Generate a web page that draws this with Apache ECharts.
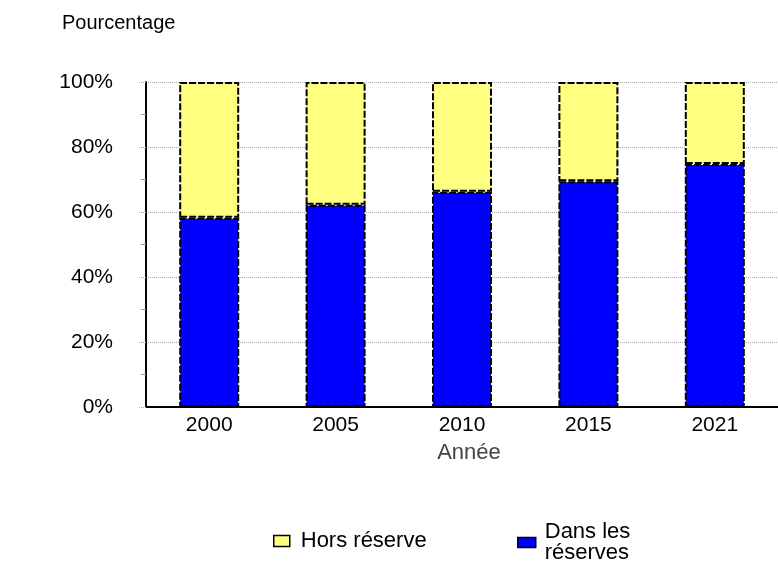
<!DOCTYPE html>
<html>
<head>
<meta charset="utf-8">
<script src="https://cdn.jsdelivr.net/npm/echarts@6/dist/echarts.min.js"></script>
<style>
  html, body { margin: 0; padding: 0; background: #fff; }
  #chart { width: 778px; height: 563px; }
</style>
</head>
<body>
<div id="chart"></div>
<script>
var years = ['2000', '2005', '2010', '2015', '2021']
var dansReserves = [58.2, 62.2, 66.2, 69.5, 74.8]
var horsReserve = [41.8, 37.8, 33.8, 30.5, 25.2]
var yTicks = [0, 20, 40, 60, 80, 100]

var myChart = echarts.init(document.getElementById('chart'))
var font = 'Liberation Sans, Arial, sans-serif'

var option = {
    animation: false,
    textStyle: { fontFamily: font },
    title: {
        text: 'Pourcentage',
        left: 57,
        top: 8,
        textStyle: { fontSize: 20, fontWeight: 'normal', color: '#000', fontFamily: font }
    },
    legend: [
        {
            data: ['Hors réserve'],
            left: 273,
            top: 530,
            padding: 0,
            icon: 'rect',
            itemWidth: 16,
            itemHeight: 11,
            itemGap: 8,
            textStyle: { fontSize: 22, color: '#000', fontFamily: font, padding: [0, 0, 0, 6] },
            itemStyle: { borderColor: '#000', borderWidth: 1.5, borderType: 'solid' }
        },
        {
            data: ['Dans les\nréserves'],
            left: 517,
            top: 521,
            padding: 0,
            icon: 'rect',
            itemWidth: 18,
            itemHeight: 10,
            itemGap: 8,
            textStyle: { fontSize: 22, color: '#000', fontFamily: font, lineHeight: 21, padding: [0, 0, 0, 4] },
            itemStyle: { borderColor: '#000', borderWidth: 1.5, borderType: 'solid' }
        }
    ],
    grid: {
        left: 146,
        right: -8,
        top: 82,
        bottom: 156,
        containLabel: false
    },
    xAxis: {
        type: 'category',
        data: years,
        name: 'Année',
        nameLocation: 'middle',
        nameGap: 35,
        nameTextStyle: { fontSize: 22, color: '#444', fontFamily: font, padding: [0, 0, 0, 14] },
        axisLine: { lineStyle: { color: '#000', width: 2 } },
        axisTick: { show: false },
        axisLabel: { fontSize: 21, color: '#000', margin: 8, fontFamily: font }
    },
    yAxis: {
        type: 'value',
        min: 0,
        max: 100,
        interval: 20,
        axisLine: { show: true, lineStyle: { color: '#000', width: 2 } },
        axisTick: { show: true, length: 7, lineStyle: { color: '#aaa', type: 'dotted' } },
        minorTick: { show: true, splitNumber: 2, length: 5, lineStyle: { color: '#999' } },
        splitLine: { show: true, lineStyle: { color: '#aaa', type: 'dotted', width: 1 } },
        axisLabel: {
            fontSize: 21,
            color: '#000',
            margin: 33,
            fontFamily: font,
            formatter: function (v) { return yTicks.indexOf(v) >= 0 ? v + '%' : '' }
        }
    },
    series: [
        {
            name: 'Dans les\nréserves',
            type: 'bar',
            stack: 'total',
            data: dansReserves,
            barWidth: 60,
            itemStyle: { color: '#0000ff', borderColor: '#000', borderWidth: 2, borderType: [7, 2] }
        },
        {
            name: 'Hors réserve',
            type: 'bar',
            stack: 'total',
            data: horsReserve,
            barWidth: 60,
            itemStyle: { color: '#ffff80', borderColor: '#000', borderWidth: 2, borderType: [7, 2] }
        }
    ]
}

myChart.setOption(option)
window.addEventListener('resize', function () {
    myChart.resize()
})
</script>
</body>
</html>
